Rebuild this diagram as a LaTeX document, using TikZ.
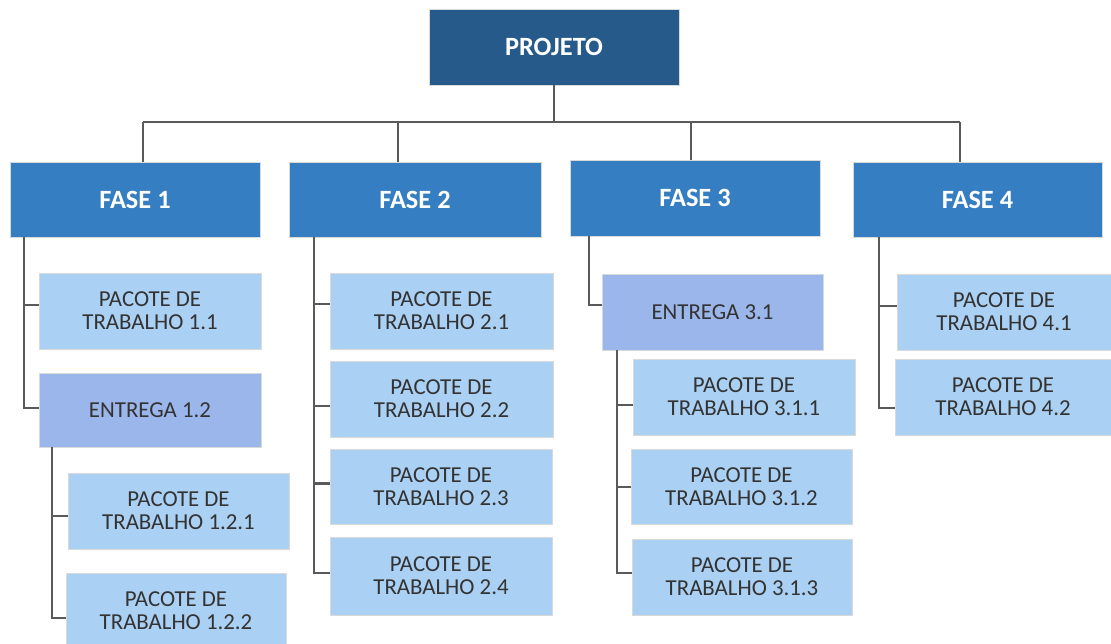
\documentclass[tikz,border=0pt]{standalone}
\usepackage{fontspec}
\setmainfont{Carlito}
\usetikzlibrary{calc}
\definecolor{projcol}{HTML}{255A8A}
\definecolor{fasecol}{HTML}{357EC2}
\definecolor{pacol}{HTML}{AAD0F3}
\definecolor{entcol}{HTML}{9BB6EA}
\definecolor{linecol}{HTML}{5A5A5A}
\definecolor{txtcol}{HTML}{333333}
\begin{document}
\begin{tikzpicture}[x=0.02cm,y=-0.02cm,
  basebox/.style={inner sep=0pt,outer sep=0pt,align=center,draw=white!85!black,line width=0.3pt},
  projbox/.style={basebox,fill=projcol,text=white,font=\fontsize{15}{17}\selectfont\bfseries,minimum width=5cm,minimum height=1.52cm},
  fasebox/.style={basebox,fill=fasecol,text=white,font=\fontsize{15}{17}\selectfont\bfseries,minimum height=1.5cm},
  pacbox/.style={basebox,fill=pacol,text=txtcol,font=\fontsize{13}{13.2}\selectfont,minimum height=1.52cm},
  entbox/.style={basebox,fill=entcol,text=txtcol,font=\fontsize{13}{13.2}\selectfont,minimum height=1.5cm},
  conn/.style={draw=linecol,line width=1.3pt}]
\useasboundingbox (0,0) rectangle (1111,644);
\clip (0,0) rectangle (1111,644);
% top
\node[projbox] (proj) at (554,47) {PROJETO};
\node[fasebox,minimum width=5cm] (f1) at (135,199.5) {FASE 1};
\node[fasebox,minimum width=5.04cm] (f2) at (415,199.5) {FASE 2};
\node[fasebox,minimum width=5cm,minimum height=1.52cm] (f3) at (695,198) {FASE 3};
\node[fasebox,minimum width=4.98cm] (f4) at (977.5,199.5) {FASE 4};
% phase 1
\node[pacbox,minimum width=4.44cm] (p11) at (150,311) {PACOTE DE\\TRABALHO 1.1};
\node[entbox,minimum width=4.44cm,minimum height=1.48cm] (e12) at (150,410) {ENTREGA 1.2};
\node[pacbox,minimum width=4.42cm] (p121) at (178.5,511) {PACOTE DE\\TRABALHO 1.2.1};
\node[pacbox,minimum width=4.4cm] (p122) at (176,611) {PACOTE DE\\TRABALHO 1.2.2};
% phase 2
\node[pacbox,minimum width=4.46cm] (p21) at (441.5,311) {PACOTE DE\\TRABALHO 2.1};
\node[pacbox,minimum width=4.46cm] (p22) at (441.5,399) {PACOTE DE\\TRABALHO 2.2};
\node[pacbox,minimum width=4.44cm,minimum height=1.5cm] (p23) at (441,486.5) {PACOTE DE\\TRABALHO 2.3};
\node[pacbox,minimum width=4.44cm,minimum height=1.56cm] (p24) at (441,576) {PACOTE DE\\TRABALHO 2.4};
% phase 3
\node[entbox,minimum width=4.42cm,minimum height=1.52cm] (e31) at (712.5,312) {ENTREGA 3.1};
\node[pacbox,minimum width=4.44cm] (p311) at (744,397) {PACOTE DE\\TRABALHO 3.1.1};
\node[pacbox,minimum width=4.42cm,minimum height=1.5cm] (p312) at (741.5,486.5) {PACOTE DE\\TRABALHO 3.1.2};
\node[pacbox,minimum width=4.4cm] (p313) at (742,577) {PACOTE DE\\TRABALHO 3.1.3};
% phase 4
\node[pacbox,minimum width=4.28cm] (p41) at (1004,312) {PACOTE DE\\TRABALHO 4.1};
\node[pacbox,minimum width=4.32cm] (p42) at (1003,397) {PACOTE DE\\TRABALHO 4.2};
% bus
\coordinate (bus) at (554,122);
\coordinate (b1) at (143,122);
\coordinate (b2) at (398,122);
\coordinate (b3) at (691,122);
\coordinate (b4) at (960,122);
\draw[conn] (proj.south) -- (bus);
\draw[conn] (b1) -- (b4);
\draw[conn] (b1) -- (f1.north -| b1);
\draw[conn] (b2) -- (f2.north -| b2);
\draw[conn] (b3) -- (f3.north -| b3);
\draw[conn] (b4) -- (f4.north -| b4);
% trunk x positions
\coordinate (t1) at (24,0);
\coordinate (t12) at (52,0);
\coordinate (t2) at (314,0);
\coordinate (t3) at (589,0);
\coordinate (t31) at (617,0);
\coordinate (t4) at (879,0);
% connection points
\coordinate (c11) at ($(p11.west)+(0,-6)$);
\coordinate (c12) at ($(e12.west)+(0,-2)$);
\coordinate (c121) at ($(p121.west)+(0,5)$);
\coordinate (c122) at ($(p122.west)+(0,7)$);
\coordinate (c21) at ($(p21.west)+(0,-7)$);
\coordinate (c22) at ($(p22.west)+(0,7)$);
\coordinate (c23) at ($(p23.west)+(0,-3)$);
\coordinate (c24) at ($(p24.west)+(0,-3)$);
\coordinate (c31) at ($(e31.west)+(0,-7)$);
\coordinate (c311) at ($(p311.west)+(0,8)$);
\coordinate (c312) at ($(p312.west)+(0,0.5)$);
\coordinate (c313) at ($(p313.west)+(0,-4)$);
\coordinate (c41) at ($(p41.west)+(0,-6)$);
\coordinate (c42) at ($(p42.west)+(0,11)$);
% phase 1
\draw[conn] (f1.south -| t1) |- (c12);
\draw[conn] (c11 -| t1) -- (c11);
\draw[conn] (e12.south -| t12) |- (c122);
\draw[conn] (c121 -| t12) -- (c121);
% phase 2
\draw[conn] (f2.south -| t2) |- (c24);
\draw[conn] (c21 -| t2) -- (c21);
\draw[conn] (c22 -| t2) -- (c22);
\draw[conn] (c23 -| t2) -- (c23);
% phase 3
\draw[conn] (f3.south -| t3) |- (c31);
\draw[conn] (e31.south -| t31) |- (c313);
\draw[conn] (c311 -| t31) -- (c311);
\draw[conn] (c312 -| t31) -- (c312);
% phase 4
\draw[conn] (f4.south -| t4) |- (c42);
\draw[conn] (c41 -| t4) -- (c41);
\end{tikzpicture}
\end{document}
